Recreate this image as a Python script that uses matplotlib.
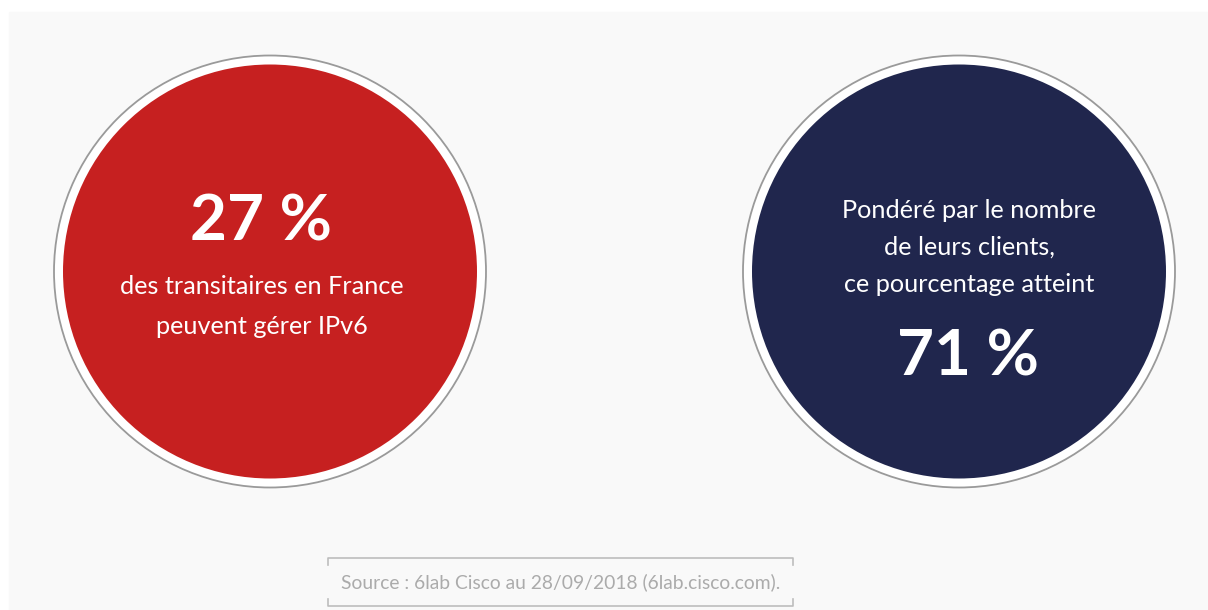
import matplotlib.pyplot as plt
from matplotlib.patches import Circle, Rectangle

# figures shown in the two discs
percentages = [27, 71]
disc_colors = ['#C62020', '#20264D']
captions = [
    ['des transitaires en France', 'peuvent gérer IPv6'],
    ['Pondéré par le nombre', 'de leurs clients,', 'ce pourcentage atteint'],
]
source = 'Source : 6lab Cisco au 28/09/2018 (6lab.cisco.com).'

W, H = 1208, 610
fig = plt.figure(figsize=(W / 100, H / 100), dpi=100)
ax = fig.add_axes([0, 0, 1, 1])
ax.set_xlim(0, W)
ax.set_ylim(H, 0)
ax.set_aspect('equal')
ax.axis('off')

# light panel behind everything
ax.add_patch(Rectangle((9, 12), W - 9, H - 12, color='#F9F9F9', zorder=0))

centers = [(270, 271.5), (959, 271.5)]
r_fill, r_ring = 207, 216

for (cx, cy), col in zip(centers, disc_colors):
    ax.add_patch(Circle((cx, cy), r_ring, facecolor='white',
                        edgecolor='#9A9A9A', lw=1.3, zorder=1))
    ax.add_patch(Circle((cx, cy), r_fill, facecolor=col, edgecolor='none', zorder=2))

big = dict(color='white', fontsize=46, fontweight='bold', family='Lato',
           ha='center', va='center', zorder=3)
small = dict(color='white', fontsize=18.2, family='Lato',
             ha='center', va='center', zorder=3)

# left disc: number on top, caption below
ax.text(261, 222, f'{percentages[0]} %', **big)
for i, line in enumerate(captions[0]):
    ax.text(262, 286 + i * 40, line, **small)

# right disc: caption on top, number below
for i, line in enumerate(captions[1]):
    ax.text(969, 210 + i * 37.5, line, **small)
ax.text(968, 357, f'{percentages[1]} %', **big)

# source note framed by open brackets
x0, x1, yt, yb = 328, 793, 558, 606
bc = '#BDBDBD'
ax.plot([x0, x0, x1, x1], [yt + 7, yt, yt, yt + 7], color=bc, lw=1.2, zorder=3)
ax.plot([x0, x0, x1, x1], [yb - 7, yb, yb, yb - 7], color=bc, lw=1.2, zorder=3)
ax.text(561, 582, source, color='#ABABAB', fontsize=13.9,
        family='Lato', ha='center', va='center', zorder=3)

fig.savefig('out.png', dpi=100)
